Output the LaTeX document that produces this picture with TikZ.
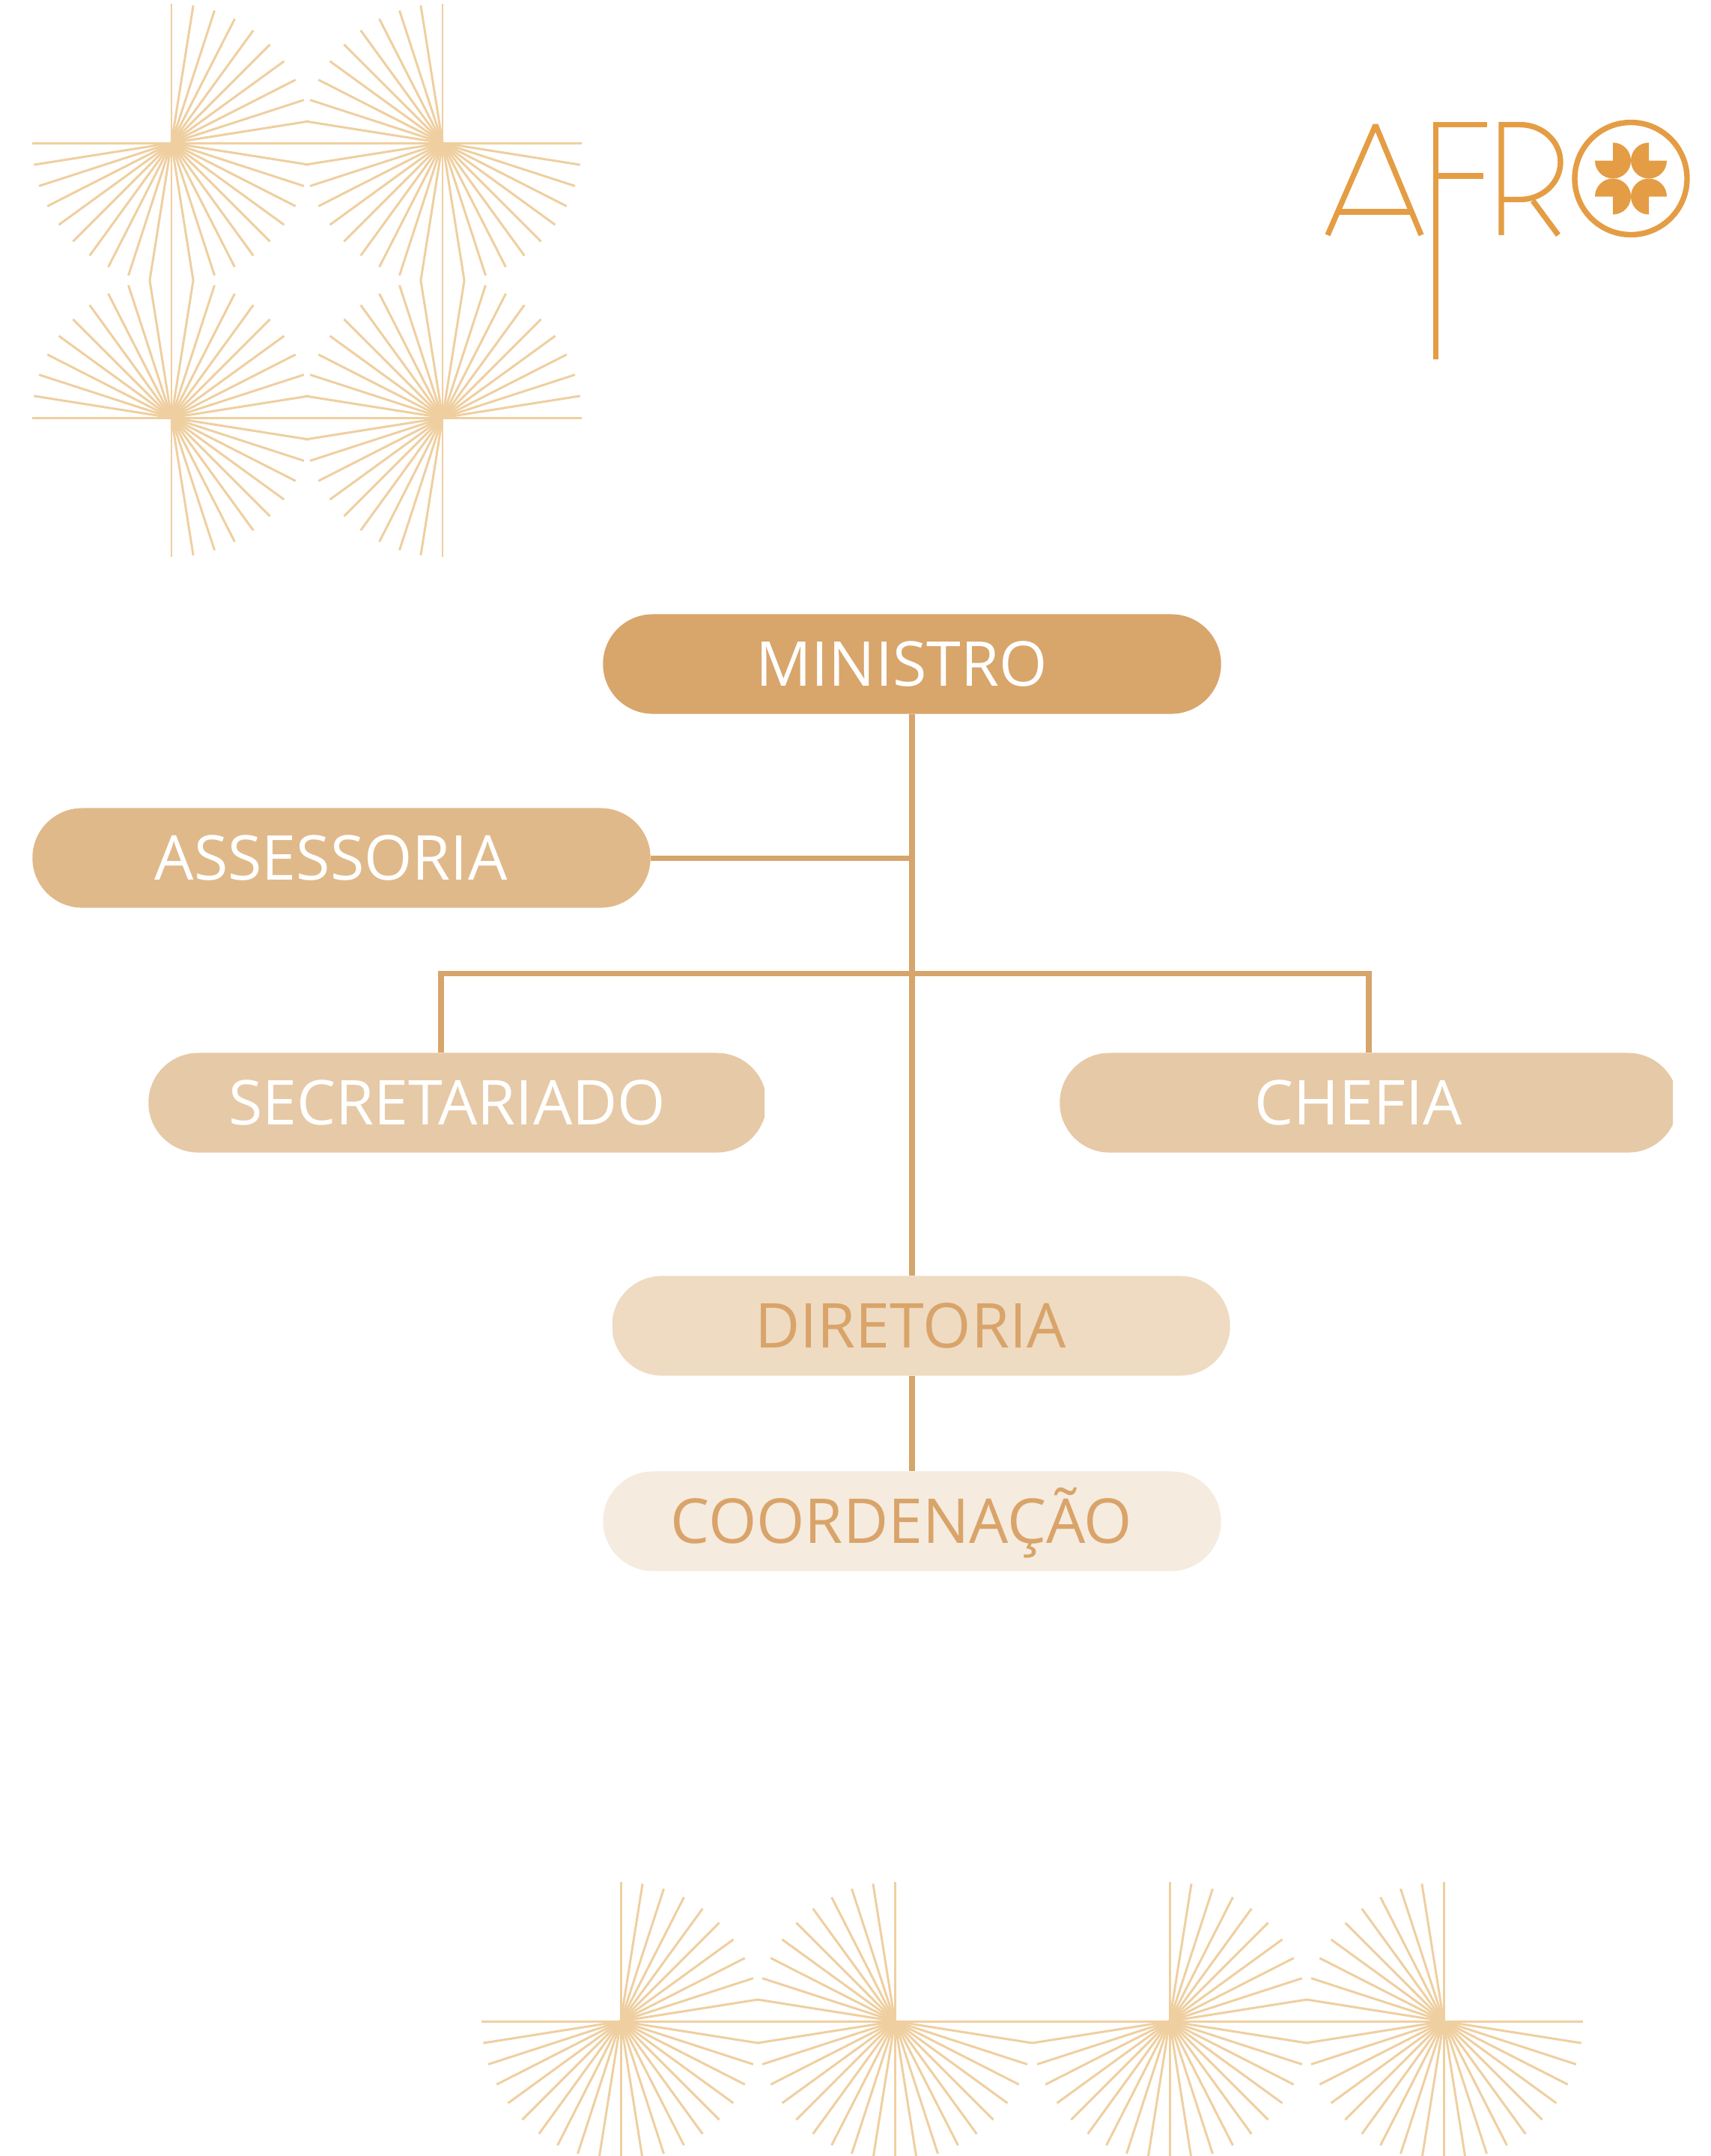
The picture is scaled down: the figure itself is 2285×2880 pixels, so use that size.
\documentclass[tikz,border=0pt]{standalone}
\usepackage{fontspec}
\setmainfont{Open Sans}
\usetikzlibrary{positioning}

\definecolor{ministroCor}{HTML}{D8A56B}
\definecolor{assessoriaCor}{HTML}{E0B98A}
\definecolor{chefiaCor}{HTML}{E6C9A6}
\definecolor{diretoriaCor}{HTML}{EEDBC2}
\definecolor{coordCor}{HTML}{F6EBDF}
\definecolor{linhaCor}{HTML}{D6A56B}
\definecolor{textoCor}{HTML}{D9A46A}
\definecolor{raioCor}{HTML}{EFCFA0}
\definecolor{logoCor}{HTML}{E49D44}

% one sunburst: centre x, centre y, first ray angle (271 degrees of rays)
\newcommand{\raios}[3]{%
  \foreach \a in {0,9,...,270}
    \draw[raio] (#1,#2) -- ++(#3+\a:186);
}

\begin{document}
\begin{tikzpicture}[x=0.01cm,y=-0.01cm,
  caixa/.style={rounded corners=0.665cm, minimum width=8.25cm, minimum height=1.33cm,
    inner sep=0pt, text height=0.59cm, text depth=0pt, font=\fontsize{23.5}{28}\selectfont,
    execute at end node=\hspace{0.28cm}},
  ligacao/.style={draw=linhaCor, line width=2pt},
  raio/.style={draw=raioCor, line width=0.85pt},
  logo/.style={draw=logoCor, line width=2.1pt}]

\useasboundingbox (0,0) rectangle (2285,2880);
\clip (0,0) rectangle (2285,2880);

% sunbursts, top left
\raios{229}{191}{270}
\raios{591}{191}{0}
\raios{229}{558}{180}
\raios{591}{558}{90}

% sunbursts, bottom
\raios{829}{2700}{270}
\raios{1195}{2700}{0}
\raios{1562}{2700}{270}
\raios{1928}{2700}{0}

% AFRO logo
\draw[logo, line join=bevel] (1773,314) -- (1837,167) -- (1898,314);
\draw[logo] (1786,283) -- (1885,283);
\draw[logo] (1986,166.5) -- (1917.5,166.5) -- (1917.5,480);
\draw[logo] (1917.5,235) -- (1981,235);
\draw[logo] (2005,314) -- (2005,166.5) -- (2030,166.5)
  .. controls (2059.8,166.5) and (2084,188.9) .. (2084,216.5)
  .. controls (2084,244.1) and (2059.8,266.5) .. (2030,266.5) -- (2005,266.5);
\draw[logo] (2047,268) -- (2081,314);
\draw[logo] (2178,238.5) circle[radius=75];
% flower: four three-quarter discs, notch outwards
\foreach \cx/\cy/\s in {2154/214.5/180, 2202/214.5/90, 2202/262.5/0, 2154/262.5/270}
  \fill[logoCor] (\cx,\cy) -- ++(\s:0.24cm) arc[start angle=\s, end angle=\s+270, radius=0.24cm] -- cycle;

% chart
\node[caixa, fill=ministroCor, text=white] (ministro) at (1218,887) {MINISTRO};
\node[caixa, fill=assessoriaCor, text=white] (assessoria) at (456,1146) {ASSESSORIA};
\begin{scope}
  \clip (0,1400) rectangle (1021,1550);
  \node[caixa, fill=chefiaCor, text=white] (secretariado) at (611,1473) {SECRETARIADO};
\end{scope}
\begin{scope}
  \clip (1300,1400) rectangle (2234,1550);
  \node[caixa, fill=chefiaCor, text=white] (chefia) at (1828,1473) {CHEFIA};
\end{scope}
\begin{scope}
  \clip (818,1690) rectangle (1700,1850);
  \node[caixa, fill=diretoriaCor, text=textoCor] (diretoria) at (1230,1771) {DIRETORIA};
\end{scope}
\node[caixa, fill=coordCor, text=textoCor] (coordenacao) at (1218,2032) {COORDENAÇÃO};

\coordinate (ramo) at (1218,1300);

\draw[ligacao] (ministro.south) -- (ministro.south |- diretoria.north);
\draw[ligacao] (assessoria.east) -- (assessoria.east -| ministro.south);
\draw[ligacao] ([xshift=-0.22cm]secretariado.north) |- (ramo) -| (chefia.north);
\draw[ligacao] (diretoria.south -| ministro.south) -- (coordenacao.north -| ministro.south);
\end{tikzpicture}
\end{document}
